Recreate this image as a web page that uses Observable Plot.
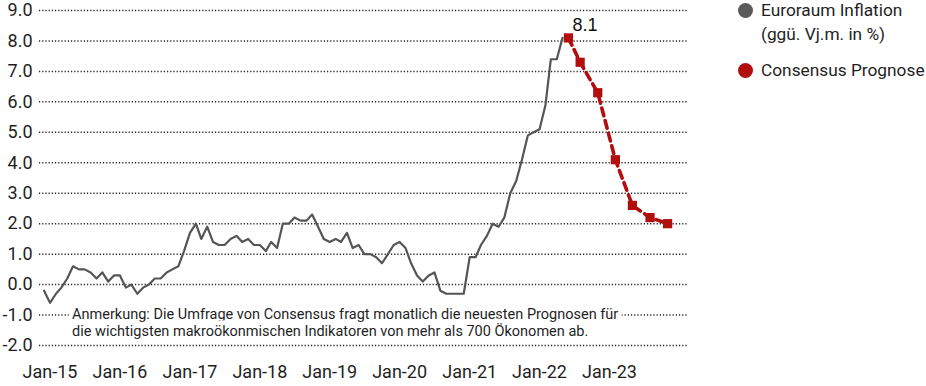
<!DOCTYPE html>
<html>
<head>
<meta charset="utf-8">
<script src="https://cdn.jsdelivr.net/npm/d3@7"></script>
<script src="https://cdn.jsdelivr.net/npm/@observablehq/plot@0.6"></script>
<style>
  body { margin: 0; background: #fff; font-family: Roboto, sans-serif; }
  #wrap { position: relative; width: 926px; height: 386px; overflow: hidden; }
  #chart { position: absolute; left: 0; top: 0; }
  .lg { position: absolute; font-size: 17.3px; color: #1f1f1f; white-space: nowrap; line-height: 24px; }
  .sw { position: absolute; width: 15px; height: 15px; border-radius: 50%; }
</style>
</head>
<body>
<div id="wrap">
  <div id="chart"></div>
  <div class="sw" style="left:738px;top:3px;background:#5a5a5a"></div>
  <div class="lg" style="left:761px;top:-2px">Euroraum Inflation<br>(ggü. Vj.m. in %)</div>
  <div class="sw" style="left:738px;top:63px;background:#b20e0e"></div>
  <div class="lg" style="left:761px;top:58px">Consensus Prognose</div>
</div>
<script>
// Euroraum Inflation, monthly from Dec 2014 to May 2022 (% yoy)
const inflationStart = "2014-12-01";
const inflationValues = [
  -0.2,
  -0.6, -0.3, -0.1, 0.2, 0.6, 0.5, 0.5, 0.4, 0.2, 0.4, 0.1, 0.3,
  0.3, -0.1, 0.0, -0.3, -0.1, 0.0, 0.2, 0.2, 0.4, 0.5, 0.6, 1.1,
  1.7, 2.0, 1.5, 1.9, 1.4, 1.3, 1.3, 1.5, 1.6, 1.4, 1.5, 1.3,
  1.3, 1.1, 1.4, 1.2, 2.0, 2.0, 2.2, 2.1, 2.1, 2.3, 1.9, 1.5,
  1.4, 1.5, 1.4, 1.7, 1.2, 1.3, 1.0, 1.0, 0.9, 0.7, 1.0, 1.3,
  1.4, 1.2, 0.7, 0.3, 0.1, 0.3, 0.4, -0.2, -0.3, -0.3, -0.3, -0.3,
  0.9, 0.9, 1.3, 1.6, 2.0, 1.9, 2.2, 3.0, 3.4, 4.1, 4.9, 5.0,
  5.1, 5.9, 7.4, 7.4, 8.1
];
// Consensus Prognose
const forecastDates = ["2022-06-01", "2022-08-01", "2022-11-01", "2023-02-01", "2023-05-01", "2023-08-01", "2023-11-01"];
const forecastValues = [8.1, 7.3, 6.3, 4.1, 2.6, 2.2, 2.0];
const peakLabel = "8.1";
// Axis ticks
const xTickDates = ["2015-01-01", "2016-01-01", "2017-01-01", "2018-01-01", "2019-01-01", "2020-01-01", "2021-01-01", "2022-01-01", "2023-01-01"];
const xTickLabels = ["Jan-15", "Jan-16", "Jan-17", "Jan-18", "Jan-19", "Jan-20", "Jan-21", "Jan-22", "Jan-23"];
const yTicks = [-2, -1, 0, 1, 2, 3, 4, 5, 6, 7, 8, 9];
const noteLines = [
  "Anmerkung: Die Umfrage von Consensus fragt monatlich die neuesten Prognosen für",
  "die wichtigsten makroökonmischen Indikatoren von mehr als 700 Ökonomen ab."
];

const start = new Date(inflationStart);
const inflation = inflationValues.map((v, i) => ({date: d3.utcMonth.offset(start, i), value: v}));
const forecast = forecastDates.map((d, i) => ({date: new Date(d), value: forecastValues[i]}));
const xTicks = xTickDates.map(d => new Date(d));
const labelOf = new Map(xTicks.map((d, i) => [+d, xTickLabels[i]]));

const red = "#b20e0e";
const plot = Plot.plot({
  width: 700,
  height: 386,
  marginLeft: 39,
  marginRight: 12,
  marginTop: 10,
  marginBottom: 41,
  style: {fontFamily: "Roboto, sans-serif", fontSize: "18px", color: "#1f1f1f", background: "#fff"},
  x: {
    type: "utc",
    domain: [new Date("2014-11-07"), new Date("2024-02-18")],
    ticks: xTicks,
    tickFormat: d => labelOf.get(+d),
    tickSize: 0,
    tickPadding: 20,
    label: null
  },
  y: {
    domain: [-2, 9],
    ticks: yTicks,
    tickFormat: d => d.toFixed(1),
    tickSize: 0,
    tickPadding: 7,
    label: null
  },
  marks: [
    Plot.ruleY(yTicks, {stroke: "#222", strokeWidth: 1.5, strokeDasharray: "1.2,2", strokeOpacity: 1}),
    Plot.text([noteLines.join("\n")], {
      x: () => new Date("2015-04-26"), y: () => -1,
      text: d => d, textAnchor: "start", lineAnchor: "top", dy: -8,
      lineHeight: 1.18, fontSize: 14.5, fill: "#1f1f1f",
      stroke: "white", strokeWidth: 9
    }),
    Plot.line(inflation, {x: "date", y: "value", stroke: "#555", strokeWidth: 2.2}),
    Plot.line(forecast, {x: "date", y: "value", stroke: red, strokeWidth: 3.6, strokeDasharray: "8,5"}),
    Plot.dot(forecast, {x: "date", y: "value", symbol: "square", r: 5.2, fill: red, stroke: "none"}),
    Plot.text(forecast.slice(0, 1), {
      x: "date", y: "value", text: () => peakLabel, textAnchor: "start",
      dx: 4, dy: -13, fontSize: 18, fontFamily: "Liberation Sans, Arial, sans-serif", fill: "#111"
    })
  ]
});
document.getElementById("chart").appendChild(plot);
</script>
</body>
</html>
